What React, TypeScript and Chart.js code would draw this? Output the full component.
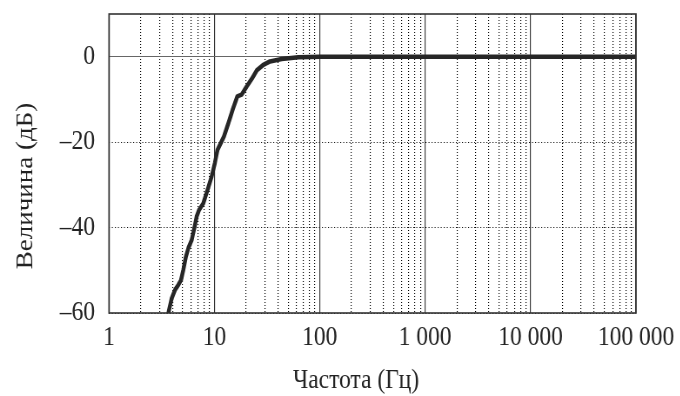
import React, { useEffect, useRef } from "react";
import { Chart, registerables } from "chart.js";

Chart.register(...registerables);

// Magnitude response of the high-pass filter
const frequencies = [
  3.65, 3.71, 3.93, 4.23, 4.55, 4.82, 5.07, 5.37, 5.66, 6.09, 6.45, 6.79, 7.14,
  7.85, 8.6, 9.4, 10.1, 10.7, 12.3, 13.6, 14.9, 16.5, 18.1, 20.2, 22.6, 25.2,
  29.1, 33.7, 43.5, 62.5, 100, 1000, 10000, 100000,
];
const magnitudes = [
  -60.2, -59.3, -56.6, -54.6, -53.4, -52.3, -49.9, -46.8, -44.8, -42.9, -40.1,
  -37.4, -35.9, -34.3, -31.2, -28.1, -24.9, -21.8, -18.7, -15.5, -12.4, -9.3,
  -8.9, -7.0, -5.2, -3.2, -1.9, -1.1, -0.55, -0.1, 0, 0, 0, 0,
];

const xMin = 1;
const xMax = 100000;
const yMin = -60;
const yMax = 10;
const yTicks = [-60, -40, -20, 0];
const decades = [1, 10, 100, 1000, 10000, 100000];
const mantissas = [1, 2, 3, 4, 5, 6, 7, 8, 9];

const xTitle = "Частота (Гц)";
const yTitle = "Величина (дБ)";

// The figure uses a narrow serif face: draw wide, then squeeze horizontally.
const SQUEEZE = 0.87;
const VIEW_W = 680;
const VIEW_H = 396;
const CANVAS_W = Math.round(VIEW_W / SQUEEZE);
const sx = (px: number) => px / SQUEEZE;

const fontFamily = "'Liberation Serif', 'Times New Roman', serif";
const fontSize = 27;
const textColor = "#222";

const isDecade = (v: number) => decades.some((d) => Math.abs(d - v) < 1e-6 * d);

const formatFreq = (v: number) =>
  String(Math.round(v)).replace(/\B(?=(\d{3})+(?!\d))/g, "\u00a0");

const formatDb = (v: number) => (v < 0 ? "\u2013" + Math.abs(v) : String(v));

// Closed frame around the plotting area plus the two axis titles
const framePlugin = {
  id: "frame",
  afterDraw(chart: any) {
    const { ctx, chartArea } = chart;
    ctx.save();
    ctx.strokeStyle = "#333";
    ctx.lineWidth = 1.6;
    ctx.strokeRect(
      chartArea.left,
      chartArea.top,
      chartArea.right - chartArea.left,
      chartArea.bottom - chartArea.top
    );
    ctx.fillStyle = textColor;
    ctx.font = `${fontSize}px ${fontFamily}`;
    ctx.textAlign = "center";
    ctx.textBaseline = "middle";
    ctx.fillText(xTitle, sx(356), 381);
    ctx.translate(sx(26), 186);
    ctx.rotate(-Math.PI / 2);
    ctx.fillText(yTitle, 0, 0);
    ctx.restore();
  },
};

export default function App() {
  const canvasRef = useRef<HTMLCanvasElement | null>(null);

  useEffect(() => {
    if (!canvasRef.current) return;
    const points = frequencies.map((f, i) => ({ x: f, y: magnitudes[i] }));
    const chart = new Chart(canvasRef.current, {
      type: "scatter",
      data: {
        datasets: [
          {
            data: points,
            showLine: true,
            borderColor: "#262626",
            borderWidth: 4.5,
            borderJoinStyle: "round",
            borderCapStyle: "round",
            pointRadius: 0,
            tension: 0,
          },
        ],
      },
      options: {
        animation: false,
        responsive: false,
        devicePixelRatio: 1,
        layout: { padding: { top: 14, right: CANVAS_W - sx(636), left: 0, bottom: 0 } },
        plugins: {
          legend: { display: false },
          tooltip: { enabled: false },
        },
        scales: {
          x: {
            type: "logarithmic",
            min: xMin,
            max: xMax,
            afterBuildTicks(scale: any) {
              const ticks: { value: number }[] = [];
              decades.forEach((d) => {
                mantissas.forEach((m) => {
                  const v = d * m;
                  if (v <= xMax) ticks.push({ value: v });
                });
              });
              scale.ticks = ticks;
            },
            afterFit(scale: any) {
              scale.height = VIEW_H - 313;
              scale.paddingLeft = 0;
              scale.paddingRight = 0;
            },
            ticks: {
              autoSkip: false,
              maxRotation: 0,
              padding: 9,
              color: textColor,
              font: { family: fontFamily, size: fontSize },
              callback: (v: any) => (isDecade(Number(v)) ? formatFreq(Number(v)) : ""),
            },
            grid: {
              drawTicks: false,
              color: (c: any) => (isDecade(c.tick?.value) ? "#333" : "#000"),
              lineWidth: 1.15,
            },
            border: {
              display: false,
              dash: (c: any) => (isDecade(c.tick?.value) ? [] : [1, 2]),
            },
          },
          y: {
            type: "linear",
            min: yMin,
            max: yMax,
            afterBuildTicks(scale: any) {
              scale.ticks = yTicks.map((v) => ({ value: v }));
            },
            afterFit(scale: any) {
              scale.width = sx(109);
              scale.paddingTop = 0;
              scale.paddingBottom = 0;
            },
            ticks: {
              padding: 16,
              color: textColor,
              font: { family: fontFamily, size: fontSize },
              callback: (v: any) => formatDb(Number(v)),
            },
            grid: {
              drawTicks: false,
              color: (c: any) => (c.tick?.value === 0 ? "#666" : "#111"),
              lineWidth: 1,
            },
            border: {
              display: false,
              dash: (c: any) => (c.tick?.value === 0 ? [] : [1.2, 2.3]),
            },
          },
        },
      },
      plugins: [framePlugin],
    } as any);
    return () => chart.destroy();
  }, []);

  return (
    <div
      style={{
        position: "fixed",
        left: 0,
        top: 0,
        width: VIEW_W,
        height: VIEW_H,
        overflow: "hidden",
        background: "#fff",
      }}
    >
      <div
        style={{
          width: CANVAS_W,
          height: VIEW_H,
          transform: `scale(${SQUEEZE}, 1)`,
          transformOrigin: "0 0",
        }}
      >
        <canvas ref={canvasRef} width={CANVAS_W} height={VIEW_H} style={{ display: "block" }} />
      </div>
    </div>
  );
}
